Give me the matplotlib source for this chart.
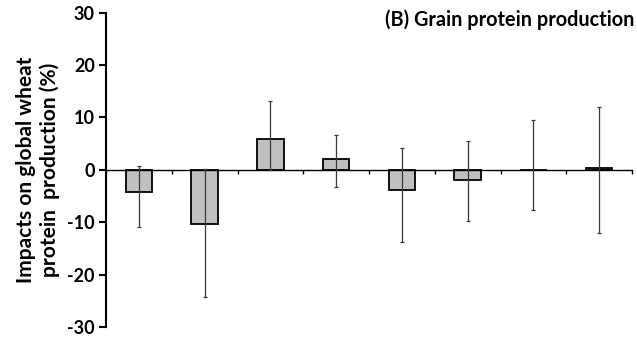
import matplotlib
matplotlib.use("Agg")
import matplotlib.pyplot as plt
import numpy as np

plt.rcParams['font.family'] = ['Lato', 'DejaVu Sans']

# Mean impact per scenario and the ends of each uncertainty range (%)
values = [-4.2, -10.3, 5.9, 2.1, -3.9, -2.0, -0.1, 0.3]
range_high = [0.7, 0.2, 13.2, 6.6, 4.1, 5.5, 9.5, 11.9]
range_low = [-11.0, -24.2, 0.0, -3.3, -13.8, -9.7, -7.6, -12.1]
y_ticks = [-30, -20, -10, 0, 10, 20, 30]

W, H = 637, 341
fig = plt.figure(figsize=(W / 100, H / 100), dpi=100)
ax = fig.add_axes([106 / W, 14 / H, (632 - 106) / W, (327 - 12.5) / H])

x = np.arange(len(values)) + 0.5
vals = np.array(values)
yerr = np.vstack([vals - np.array(range_low), np.array(range_high) - vals])

ax.bar(x, vals, width=0.4, color='#c0c0c0', edgecolor='black', linewidth=1.3, zorder=2)
ax.errorbar(x, vals, yerr=yerr, fmt='none', ecolor='#3a3a3a', elinewidth=0.9,
            capsize=1.5, capthick=0.9, zorder=3)

ax.set_xlim(0, len(values))
ax.set_ylim(-30, 30)
ax.set_yticks(y_ticks)
ax.set_yticklabels([str(t) for t in y_ticks], fontsize=13, fontweight='bold')
ax.set_xticks(np.arange(len(values) + 1))
ax.set_xticklabels([])

ax.spines['top'].set_visible(False)
ax.spines['right'].set_visible(False)
ax.spines['bottom'].set_position(('data', 0))
ax.spines['bottom'].set_linewidth(1.0)
ax.spines['left'].set_linewidth(1.5)
ax.tick_params(axis='y', direction='out', length=5, width=1.5, pad=3)
ax.tick_params(axis='x', direction='out', length=3, width=1.0)

ax.set_ylabel('Impacts on global wheat\nprotein  production (%)', fontsize=15,
              fontweight='bold', labelpad=5, linespacing=1.2)

fig.text(634 / W, 1 - 20 / H, '(B) Grain protein production', ha='right', va='center',
         fontsize=14.3, fontweight='bold')

fig.savefig('out.png', dpi=100)
